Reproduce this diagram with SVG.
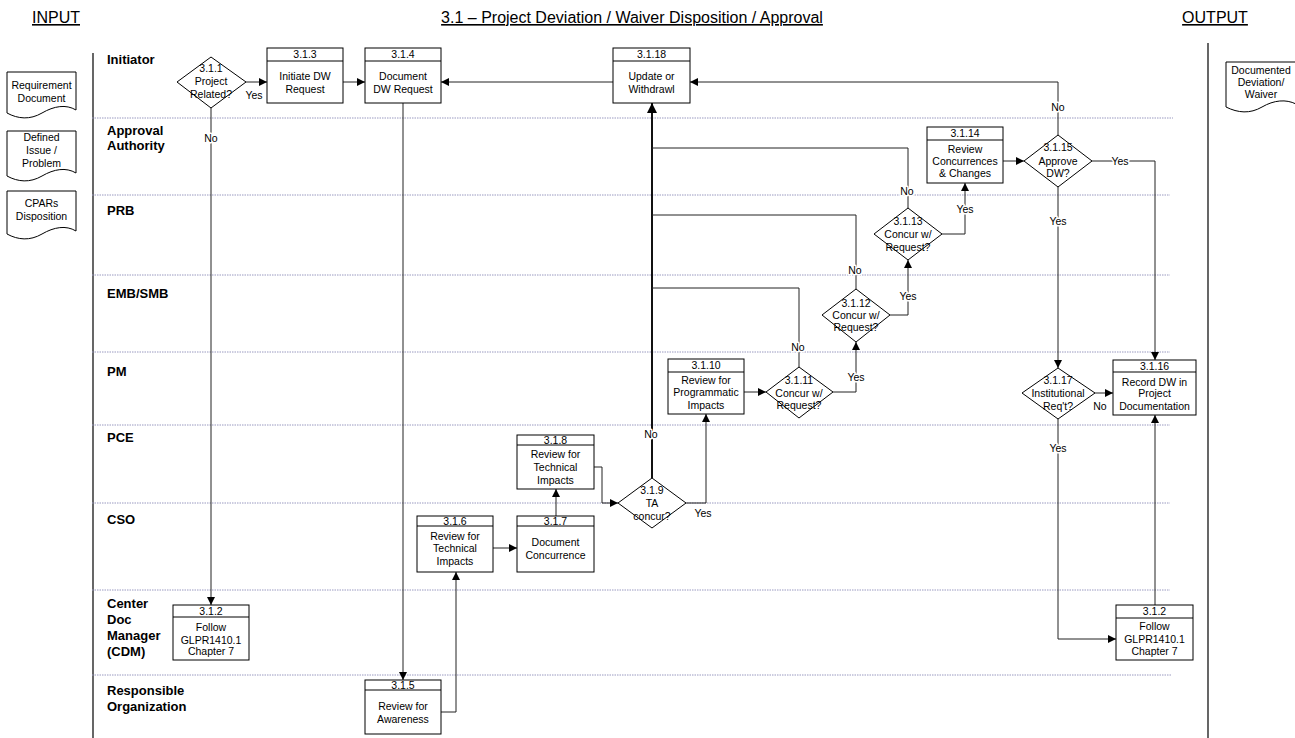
<svg xmlns="http://www.w3.org/2000/svg" width="1295" height="738" viewBox="0 0 1295 738">
<style>
text{font-family:"Liberation Sans",Arial,sans-serif;fill:#000}
.t{font-size:16px;text-decoration:underline}
.lane{font-size:13px;font-weight:bold}
.n{font-size:10.5px;text-anchor:middle}
.lbl{font-size:10.5px;text-anchor:middle;stroke:#fff;stroke-width:3px;paint-order:stroke;stroke-linejoin:round}
.box{fill:#fff;stroke:#000;stroke-width:1}
.sep{stroke:#9999c0;stroke-width:1;stroke-dasharray:1.5 1}
.c{fill:none;stroke:#222;stroke-width:1}
.ca{fill:none;stroke:#222;stroke-width:1;marker-end:url(#ah)}
</style>
<defs>
<marker id="ah" viewBox="0 0 10 10" refX="10" refY="5" markerWidth="8" markerHeight="8" markerUnits="userSpaceOnUse" orient="auto"><path d="M0,0 L10,5 L0,10 z" fill="#000"/></marker>
<marker id="ahb" viewBox="0 0 10 10" refX="10" refY="5" markerWidth="10" markerHeight="10" markerUnits="userSpaceOnUse" orient="auto"><path d="M0,0 L10,5 L0,10 z" fill="#000"/></marker>
</defs>
<rect width="1295" height="738" fill="#fff"/>

<g id="titles">
<text class="t" x="56" y="23" text-anchor="middle">INPUT</text>
<text class="t" x="632" y="23" text-anchor="middle">3.1 – Project Deviation / Waiver Disposition / Approval</text>
<text class="t" x="1215" y="23" text-anchor="middle">OUTPUT</text>
</g>

<g id="lanes">
<line x1="93" y1="53" x2="93" y2="738" stroke="#000" stroke-width="1.2"/>
<line x1="1208" y1="43" x2="1208" y2="738" stroke="#000" stroke-width="1.2"/>
<line class="sep" x1="92" y1="118" x2="1173" y2="118"/>
<line class="sep" x1="92" y1="195" x2="1170" y2="195"/>
<line class="sep" x1="92" y1="275" x2="1170" y2="275"/>
<line class="sep" x1="92" y1="352" x2="1170" y2="352"/>
<line class="sep" x1="92" y1="425" x2="1170" y2="425"/>
<line class="sep" x1="92" y1="503" x2="1170" y2="503"/>
<line class="sep" x1="92" y1="590" x2="1170" y2="590"/>
<line class="sep" x1="92" y1="675" x2="1172" y2="675"/>
<text class="lane" x="107" y="64">Initiator</text>
<text class="lane" x="107" y="135">Approval</text>
<text class="lane" x="107" y="150">Authority</text>
<text class="lane" x="107" y="215">PRB</text>
<text class="lane" x="107" y="298">EMB/SMB</text>
<text class="lane" x="107" y="376">PM</text>
<text class="lane" x="107" y="442">PCE</text>
<text class="lane" x="107" y="524">CSO</text>
<text class="lane" x="107" y="608">Center</text>
<text class="lane" x="107" y="624">Doc</text>
<text class="lane" x="107" y="640">Manager</text>
<text class="lane" x="107" y="656">(CDM)</text>
<text class="lane" x="107" y="695">Responsible</text>
<text class="lane" x="107" y="711">Organization</text>
</g>

<g id="connectors">
<line class="ca" x1="246" y1="82" x2="267" y2="82"/>
<line class="ca" x1="343" y1="82" x2="365" y2="82"/>
<line class="ca" x1="613" y1="82" x2="441" y2="82"/>
<polyline class="ca" points="1058,135 1058,82 690,82"/>
<line class="ca" x1="211" y1="108" x2="211" y2="605"/>
<line class="ca" x1="403" y1="103" x2="403" y2="680"/>
<polyline class="ca" points="441,712 456,712 456,572"/>
<line class="ca" x1="493" y1="548" x2="517" y2="548"/>
<line class="ca" x1="556" y1="516" x2="556" y2="489"/>
<polyline class="ca" points="594,467 602,467 602,503 618,503"/>
<line x1="652" y1="478" x2="652" y2="103" fill="none" stroke="#111" stroke-width="2" marker-end="url(#ahb)"/>
<polyline class="ca" points="686,503 706,503 706,414"/>
<line class="ca" x1="744" y1="392" x2="766" y2="392"/>
<polyline class="ca" points="833,392 856,392 856,342"/>
<polyline class="c" points="799,367 799,288 652,288"/>
<polyline class="ca" points="890,315 908,315 908,260"/>
<polyline class="c" points="856,289 856,215 652,215"/>
<polyline class="ca" points="942,234 965,234 965,183"/>
<polyline class="c" points="908,208 908,148 652,148"/>
<line class="ca" x1="1003" y1="161" x2="1024" y2="161"/>
<polyline class="ca" points="1092,161 1155,161 1155,360"/>
<line class="ca" x1="1058" y1="187" x2="1058" y2="368"/>
<line class="ca" x1="1095" y1="393" x2="1113" y2="393"/>
<polyline class="ca" points="1058,419 1058,639 1116,639"/>
<line class="ca" x1="1155" y1="605" x2="1155" y2="415"/>
<text class="n" x="254" y="99">Yes</text>
<text class="lbl" x="211" y="142">No</text>
<text class="lbl" x="1058" y="111">No</text>
<text class="lbl" x="1120" y="165">Yes</text>
<text class="lbl" x="1058" y="225">Yes</text>
<text class="lbl" x="907" y="195">No</text>
<text class="lbl" x="965" y="213">Yes</text>
<text class="lbl" x="855" y="274">No</text>
<text class="lbl" x="908" y="300">Yes</text>
<text class="lbl" x="798" y="351">No</text>
<text class="lbl" x="856" y="381">Yes</text>
<text class="lbl" x="651" y="438">No</text>
<text class="n" x="703" y="517">Yes</text>
<text class="n" x="1100" y="410">No</text>
<text class="lbl" x="1058" y="452">Yes</text>
</g>

<g id="doc-requirement">
<path class="box" d="M7,72 H76 V110 C66,104 54,106 42,113 C30,120 18,119 7,113 Z"/>
<text class="n" x="41.5" y="89">Requirement</text>
<text class="n" x="41.5" y="102">Document</text>
</g>
<g id="doc-issue">
<path class="box" d="M7,131 H76 V173 C66,167 54,169 42,176 C30,183 18,182 7,176 Z"/>
<text class="n" x="41.5" y="141">Defined</text>
<text class="n" x="41.5" y="154">Issue /</text>
<text class="n" x="41.5" y="167">Problem</text>
</g>
<g id="doc-cpars">
<path class="box" d="M7,191 H76 V231 C66,225 54,227 42,234 C30,241 18,240 7,234 Z"/>
<text class="n" x="41.5" y="207">CPARs</text>
<text class="n" x="41.5" y="220">Disposition</text>
</g>
<g id="doc-output">
<path class="box" d="M1226,62 H1296 V104 C1286,99 1274,100 1262,107 C1250,114 1238,113 1226,107 Z"/>
<text class="n" x="1261" y="74">Documented</text>
<text class="n" x="1261" y="86">Deviation/</text>
<text class="n" x="1261" y="98">Waiver</text>
</g>

<g id="n311">
<polygon class="box" points="211,57 246,82 211,108 177,82"/>
<text class="n" x="211" y="72">3.1.1</text>
<text class="n" x="211" y="85">Project</text>
<text class="n" x="211" y="98">Related?</text>
</g>
<g id="n313">
<rect class="box" x="267" y="48" width="76" height="55"/>
<line x1="267" y1="61" x2="343" y2="61" stroke="#000"/>
<text class="n" x="305" y="58">3.1.3</text>
<text class="n" x="305" y="80">Initiate DW</text>
<text class="n" x="305" y="93">Request</text>
</g>
<g id="n314">
<rect class="box" x="365" y="48" width="76" height="55"/>
<line x1="365" y1="61" x2="441" y2="61" stroke="#000"/>
<text class="n" x="403" y="58">3.1.4</text>
<text class="n" x="403" y="80">Document</text>
<text class="n" x="403" y="93">DW Request</text>
</g>
<g id="n3118">
<rect class="box" x="613" y="48" width="77" height="55"/>
<line x1="613" y1="61" x2="690" y2="61" stroke="#000"/>
<text class="n" x="651.5" y="58">3.1.18</text>
<text class="n" x="651.5" y="80">Update or</text>
<text class="n" x="651.5" y="93">Withdrawl</text>
</g>
<g id="n3114">
<rect class="box" x="927" y="127" width="76" height="56"/>
<line x1="927" y1="140" x2="1003" y2="140" stroke="#000"/>
<text class="n" x="965" y="137">3.1.14</text>
<text class="n" x="965" y="153">Review</text>
<text class="n" x="965" y="165">Concurrences</text>
<text class="n" x="965" y="177">&amp; Changes</text>
</g>
<g id="n3115">
<polygon class="box" points="1058,135 1092,161 1058,187 1024,161"/>
<text class="n" x="1058" y="151">3.1.15</text>
<text class="n" x="1058" y="165">Approve</text>
<text class="n" x="1058" y="177">DW?</text>
</g>
<g id="n3113">
<polygon class="box" points="908,208 942,234 908,260 874,234"/>
<text class="n" x="908" y="225">3.1.13</text>
<text class="n" x="908" y="238">Concur w/</text>
<text class="n" x="908" y="251">Request?</text>
</g>
<g id="n3112">
<polygon class="box" points="856,289 890,315 856,342 822,315"/>
<text class="n" x="856" y="307">3.1.12</text>
<text class="n" x="856" y="319">Concur w/</text>
<text class="n" x="856" y="331">Request?</text>
</g>
<g id="n3111">
<polygon class="box" points="799,367 833,392 799,418 766,392"/>
<text class="n" x="799" y="384">3.1.11</text>
<text class="n" x="799" y="397">Concur w/</text>
<text class="n" x="799" y="409">Request?</text>
</g>
<g id="n3110">
<rect class="box" x="668" y="359" width="76" height="55"/>
<line x1="668" y1="372" x2="744" y2="372" stroke="#000"/>
<text class="n" x="706" y="369">3.1.10</text>
<text class="n" x="706" y="384">Review for</text>
<text class="n" x="706" y="396">Programmatic</text>
<text class="n" x="706" y="409">Impacts</text>
</g>
<g id="n319">
<polygon class="box" points="652,478 686,503 652,528 618,503"/>
<text class="n" x="652" y="494">3.1.9</text>
<text class="n" x="652" y="507">TA</text>
<text class="n" x="652" y="520">concur?</text>
</g>
<g id="n318">
<rect class="box" x="517" y="435" width="77" height="54"/>
<line x1="517" y1="445" x2="594" y2="445" stroke="#000"/>
<text class="n" x="555.5" y="444">3.1.8</text>
<text class="n" x="555.5" y="458">Review for</text>
<text class="n" x="555.5" y="471">Technical</text>
<text class="n" x="555.5" y="484">Impacts</text>
</g>
<g id="n317">
<rect class="box" x="517" y="516" width="77" height="56"/>
<line x1="517" y1="526" x2="594" y2="526" stroke="#000"/>
<text class="n" x="555.5" y="525">3.1.7</text>
<text class="n" x="555.5" y="546">Document</text>
<text class="n" x="555.5" y="559">Concurrence</text>
</g>
<g id="n316">
<rect class="box" x="417" y="516" width="76" height="56"/>
<line x1="417" y1="526" x2="493" y2="526" stroke="#000"/>
<text class="n" x="455" y="525">3.1.6</text>
<text class="n" x="455" y="540">Review for</text>
<text class="n" x="455" y="552">Technical</text>
<text class="n" x="455" y="565">Impacts</text>
</g>
<g id="n315">
<rect class="box" x="365" y="680" width="76" height="54"/>
<line x1="365" y1="690" x2="441" y2="690" stroke="#000"/>
<text class="n" x="403" y="689">3.1.5</text>
<text class="n" x="403" y="710">Review for</text>
<text class="n" x="403" y="723">Awareness</text>
</g>
<g id="n312a">
<rect class="box" x="173" y="605" width="76" height="55"/>
<line x1="173" y1="617" x2="249" y2="617" stroke="#000"/>
<text class="n" x="211" y="615">3.1.2</text>
<text class="n" x="211" y="631">Follow</text>
<text class="n" x="211" y="644">GLPR1410.1</text>
<text class="n" x="211" y="655">Chapter 7</text>
</g>
<g id="n3116">
<rect class="box" x="1113" y="360" width="83" height="55"/>
<line x1="1113" y1="372" x2="1196" y2="372" stroke="#000"/>
<text class="n" x="1154.5" y="370">3.1.16</text>
<text class="n" x="1154.5" y="386">Record DW in</text>
<text class="n" x="1154.5" y="397">Project</text>
<text class="n" x="1154.5" y="410">Documentation</text>
</g>
<g id="n3117">
<polygon class="box" points="1058,368 1095,393 1058,419 1022,393"/>
<text class="n" x="1058" y="384">3.1.17</text>
<text class="n" x="1058" y="397">Institutional</text>
<text class="n" x="1058" y="410">Req't?</text>
</g>
<g id="n312b">
<rect class="box" x="1116" y="605" width="77" height="55"/>
<line x1="1116" y1="618" x2="1193" y2="618" stroke="#000"/>
<text class="n" x="1154.5" y="615">3.1.2</text>
<text class="n" x="1154.5" y="630">Follow</text>
<text class="n" x="1154.5" y="643">GLPR1410.1</text>
<text class="n" x="1154.5" y="655">Chapter 7</text>
</g>
</svg>
